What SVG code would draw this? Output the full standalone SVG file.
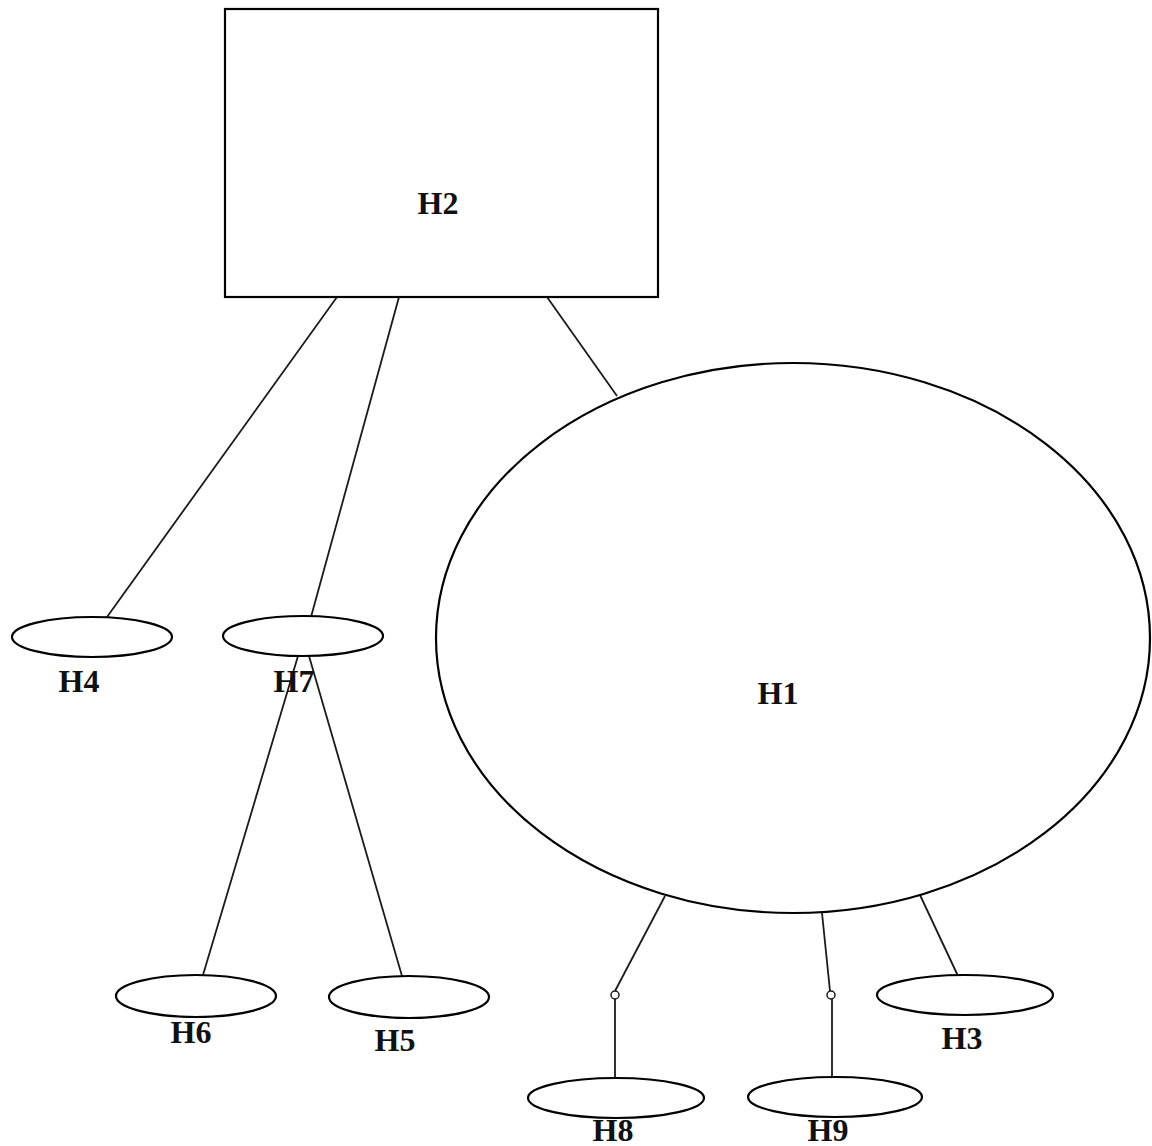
<svg xmlns="http://www.w3.org/2000/svg" width="1152" height="1146" viewBox="0 0 1152 1146">
<style>
.shape{fill:#fff;stroke:#000;stroke-width:2.2}
.edge{fill:none;stroke:#1a1a1a;stroke-width:1.8}
.lbl{font-family:"Liberation Serif","Times New Roman",serif;font-weight:bold;font-size:32px;fill:#111;text-anchor:middle}
.port{fill:#fff;stroke:#1a1a1a;stroke-width:1.5}
</style>
<rect width="1152" height="1146" fill="#fff"/>
<g id="connectors">
<line class="edge" x1="337" y1="297" x2="107" y2="617"/>
<line class="edge" x1="399" y1="297" x2="311" y2="617"/>
<line class="edge" x1="547" y1="297" x2="617" y2="396"/>
<line class="edge" x1="298" y1="656" x2="203" y2="975"/>
<line class="edge" x1="309" y1="656" x2="402" y2="976"/>
<line class="edge" x1="665" y1="896" x2="615" y2="991"/>
<line class="edge" x1="615" y1="999" x2="615" y2="1078"/>
<line class="edge" x1="822" y1="913" x2="830" y2="991"/>
<line class="edge" x1="832" y1="999" x2="832" y2="1077"/>
<line class="edge" x1="920" y1="895" x2="958" y2="976"/>
<circle class="port" cx="615" cy="995" r="4"/>
<circle class="port" cx="831" cy="995" r="4"/>
</g>
<g id="H2">
<rect class="shape" x="225" y="9" width="433" height="288"/>
<text class="lbl" x="438" y="214">H2</text>
</g>
<g id="H1">
<ellipse class="shape" cx="793" cy="638" rx="357" ry="275"/>
<text class="lbl" x="778" y="704">H1</text>
</g>
<g id="H4">
<ellipse class="shape" cx="92" cy="637" rx="80" ry="20"/>
<text class="lbl" x="79" y="692">H4</text>
</g>
<g id="H7">
<ellipse class="shape" cx="303" cy="636" rx="80" ry="20"/>
<text class="lbl" x="294" y="692">H7</text>
</g>
<g id="H6">
<ellipse class="shape" cx="196" cy="996" rx="80" ry="21"/>
<text class="lbl" x="191" y="1043">H6</text>
</g>
<g id="H5">
<ellipse class="shape" cx="409" cy="997" rx="80" ry="21"/>
<text class="lbl" x="395" y="1051">H5</text>
</g>
<g id="H3">
<ellipse class="shape" cx="965" cy="995" rx="88" ry="20"/>
<text class="lbl" x="962" y="1049">H3</text>
</g>
<g id="H8">
<ellipse class="shape" cx="616" cy="1098" rx="88" ry="20"/>
<text class="lbl" x="613" y="1141">H8</text>
</g>
<g id="H9">
<ellipse class="shape" cx="835" cy="1097" rx="87" ry="20"/>
<text class="lbl" x="828" y="1141">H9</text>
</g>
</svg>
